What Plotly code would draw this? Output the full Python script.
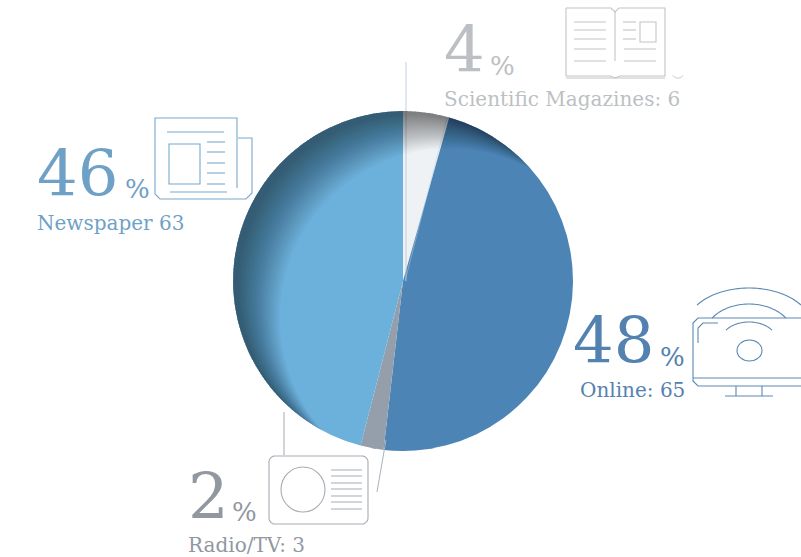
import numpy as np
import plotly.graph_objects as go

W, H = 801, 557
categories = ["Scientific Magazines", "Online", "Radio/TV", "Newspaper"]
values = [6, 65, 3, 63]
percents = [4, 48, 2, 46]
slice_colors = ["#eff2f5", "#4c84b5", "#959fac", "#6cb0dc"]
text_colors = ["#bcbfc3", "#5482b0", "#91989f", "#6fa1c6"]
FONT = "DejaVu Serif"

def X(x): return x / W
def Y(y): return 1 - y / H

def P(pts, close=False):
    s = "M" + " L".join(f"{X(a):.5f},{Y(b):.5f}" for a, b in pts)
    return s + (" Z" if close else "")

shapes = []
def line(pts, color, width=1.1):
    shapes.append(dict(type="path", xref="paper", yref="paper", path=P(pts),
                       line=dict(color=color, width=width), fillcolor="rgba(0,0,0,0)"))

def arc(cx, cy, rx, ry, a0, a1, color, width=1.1):
    t = np.radians(np.linspace(a0, a1, 40))
    line(list(zip(cx + rx*np.cos(t), cy + ry*np.sin(t))), color, width)

def rrect(x0, y0, x1, y1, r, color, width=1.1):
    pts = []
    for cx, cy, a in [(x1-r, y0+r, -90), (x1-r, y1-r, 0), (x0+r, y1-r, 90), (x0+r, y0+r, 180)]:
        t = np.radians(np.linspace(a, a+90, 8))
        pts += list(zip(cx + r*np.cos(t), cy + r*np.sin(t)))
    shapes.append(dict(type="path", xref="paper", yref="paper", path=P(pts, True),
                       line=dict(color=color, width=width), fillcolor="rgba(0,0,0,0)"))

# leader lines
CX, CY, R = 403, 281, 170
line([(406, 62), (406, 281)], "#b4c6d8", 0.8)
line([(447, 118), (405, 281)], "#b9cfe0", 0.5)
line([(284, 412), (284, 455)], "#a3aab1", 1)
line([(386, 440), (377, 492)], "#a9b1b9", 1)

# inset shadow: stacked crescents, light from the lower right
th = np.radians(np.linspace(0, 360, 241))
N = 34
dx, dy = np.cos(th), np.sin(th)
for k in range(N):
    d = 8 + 52 * k / (N - 1)
    ox, oy = 0.78 * d, 0.62 * d
    rin = R + 1.5 - 0.03 * d
    b = dx*ox + dy*oy
    r_in = b + np.sqrt(np.maximum(rin**2 - ox**2 - oy**2 + b**2, 0))
    r_in = np.minimum(r_in, R - 0.05)
    outer = list(zip(CX + R*dx, CY + R*dy))
    inner = list(zip(CX + r_in[::-1]*dx[::-1], CY + r_in[::-1]*dy[::-1]))
    shapes.append(dict(type="path", xref="paper", yref="paper", layer="above",
                       path=P(outer, True) + " " + P(inner, True),
                       line=dict(width=0), fillcolor="rgba(0,0,0,0.0165)"))

# book icon
c = "#c1c4c8"
line([(566, 8), (611, 8), (615, 12), (619, 8), (665, 8), (665, 76), (620, 76), (615, 78), (610, 76), (566, 76), (566, 8)], c)
line([(566, 78), (665, 78)], c)
line([(615, 12), (615, 61)], c)
for y in [22, 30, 39, 49, 61]:
    line([(574, y), (606, y)], c)
line([(623, 22), (636, 22)], c); line([(623, 30), (636, 30)], c); line([(623, 39), (636, 39)], c)
line([(624, 49), (656, 49)], c); line([(624, 61), (656, 61)], c)
shapes.append(dict(type="rect", xref="paper", yref="paper", x0=X(640), x1=X(656), y0=Y(42), y1=Y(22),
                   line=dict(color=c, width=1.1)))
arc(678, 73, 6, 5, 30, 150, c, 1)

# newspaper icon
c = "#78a8cd"
line([(238, 138), (252, 138), (252, 193), (246, 199), (160, 199), (155, 194), (155, 118), (237, 118), (237, 188)], c)
line([(167, 132), (224, 132)], c)
line([(170, 192), (227, 192)], c)
shapes.append(dict(type="rect", xref="paper", yref="paper", x0=X(169), x1=X(200), y0=Y(184), y1=Y(144),
                   line=dict(color=c, width=1.1)))
for y in [142, 152, 163, 173, 184]:
    line([(207, y), (225, y)], c)

# monitor icon
c = "#5a88b4"
arc(749, 328, 63.5, 40, 215, 325, c)
arc(749, 337, 45, 33, 215, 325, c)
arc(749, 341, 28, 19, 215, 325, c)
shapes.append(dict(type="circle", xref="paper", yref="paper", x0=X(737), x1=X(762), y0=Y(361), y1=Y(340),
                   line=dict(color=c, width=1.1)))
line([(801, 318), (698, 318), (693, 323), (693, 381), (698, 386), (801, 386)], c)
line([(693, 378), (801, 378)], c)
line([(698, 343), (698, 328), (703, 323), (718, 323)], c)
line([(736, 386), (736, 396)], c); line([(762, 386), (762, 396)], c)
line([(725, 396), (773, 396)], c)

# radio icon
c = "#a5acb3"
rrect(269, 456, 368, 524, 6, c)
shapes.append(dict(type="circle", xref="paper", yref="paper", x0=X(281), x1=X(325), y0=Y(512), y1=Y(467),
                   line=dict(color=c, width=1.1)))
for y in [470, 476, 483, 489, 496, 502, 509]:
    line([(331, y), (362, y)], c)

anns = []
def txt(x, y, s, size, color):
    anns.append(dict(x=X(x), y=Y(y), xref="paper", yref="paper", text=s, showarrow=False, xanchor="left",
                     yanchor="middle", borderpad=0, font=dict(family=FONT, size=size, color=color)))

lab = [("Scientific Magazines: 6", 443, 99), ("Online: 65", 579, 390), ("Radio/TV: 3", 187, 545), ("Newspaper 63", 36, 223)]
big = [(443, 50), (572, 341), (187, 497), (36, 174)]
pct = [(489, 66), (659, 357), (231, 512), (124, 189)]
for i in range(4):
    txt(lab[i][1], lab[i][2], lab[i][0], 20, text_colors[i])
    txt(big[i][0], big[i][1], str(percents[i]), 64, text_colors[i])
    txt(pct[i][0], pct[i][1], "%", 26, text_colors[i])

fig = go.Figure(go.Pie(labels=categories, values=values, sort=False, direction="clockwise", rotation=0,
                       marker=dict(colors=slice_colors, line=dict(width=0)), textinfo="none", hoverinfo="skip",
                       domain=dict(x=[X(CX-R), X(CX+R)], y=[Y(CY+R), Y(CY-R)])))
fig.update_layout(width=W, height=H, margin=dict(l=0, r=0, t=0, b=0), showlegend=False,
                  paper_bgcolor="white", shapes=shapes, annotations=anns)
fig.write_html("out.html", config=dict(displayModeBar=False), post_script="document.body.style.margin='0';")
